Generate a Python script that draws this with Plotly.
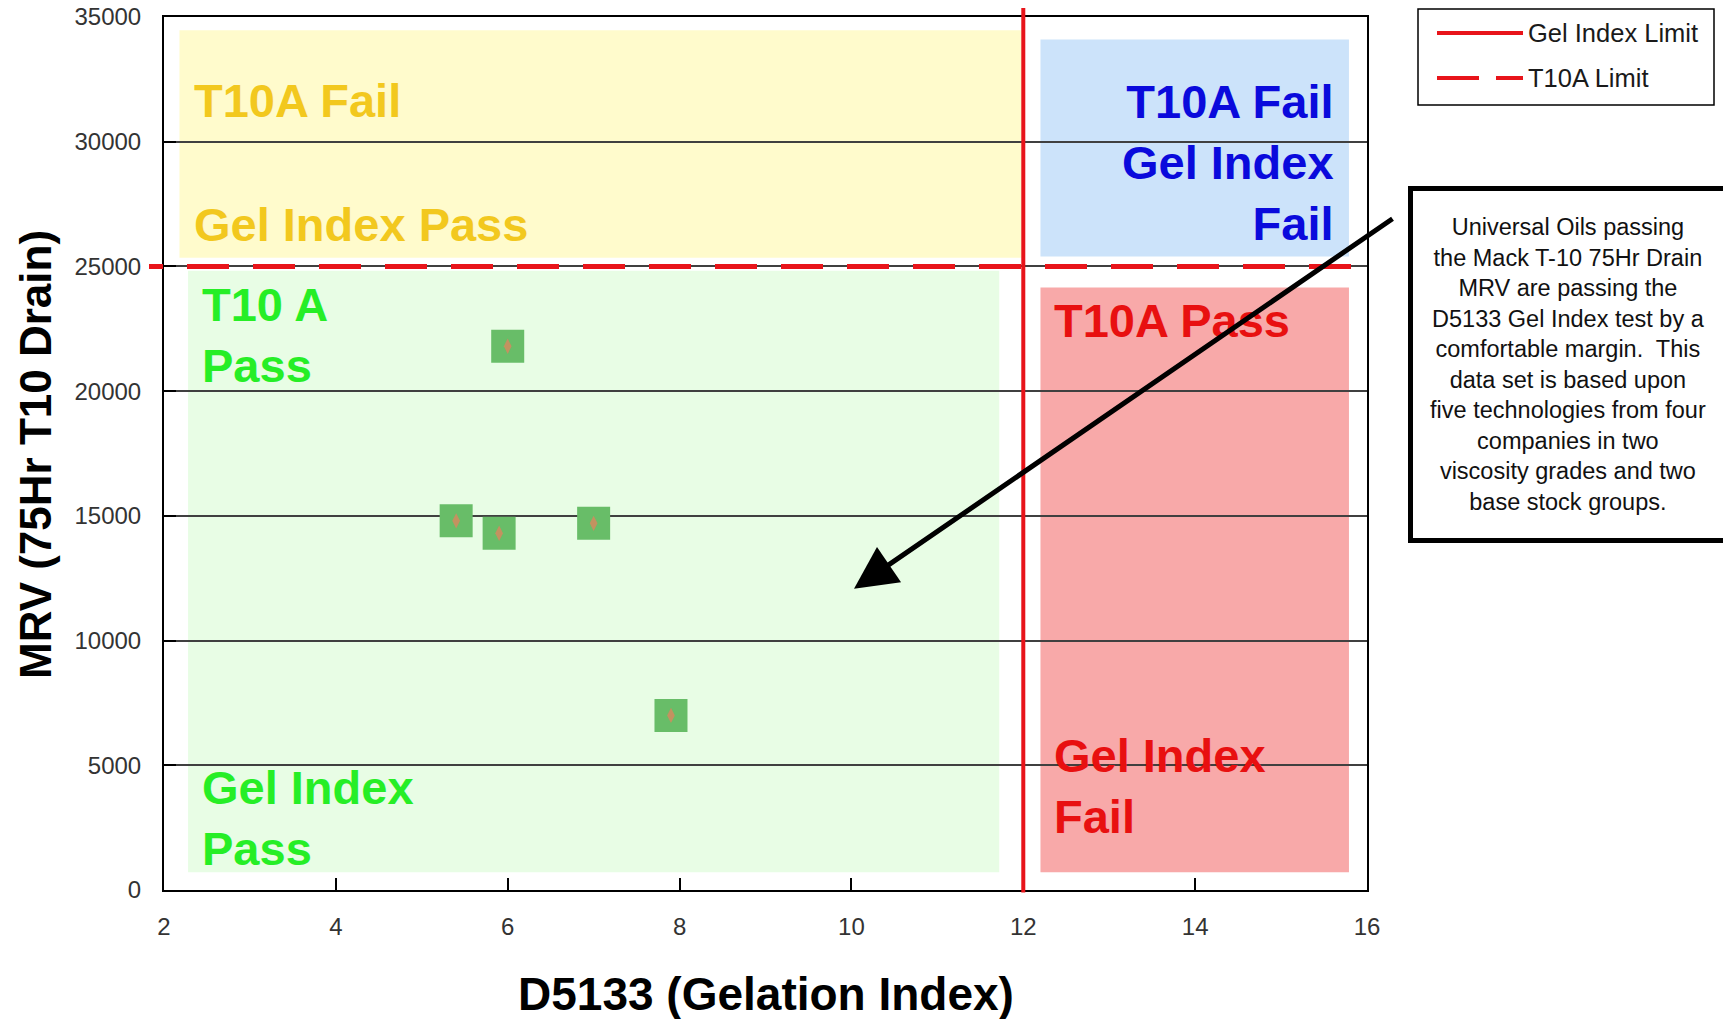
import plotly.graph_objects as go

# ---------------- data ----------------
gel_index = [6.0, 5.4, 5.9, 7.0, 7.9]          # D5133 Gelation Index
mrv = [21800, 14800, 14300, 14700, 7000]       # MRV (75Hr T10 Drain)

gel_index_limit = 12
t10a_limit = 25000

x_ticks = [2, 4, 6, 8, 10, 12, 14, 16]
y_ticks = [0, 5000, 10000, 15000, 20000, 25000, 30000, 35000]

x_title = "D5133 (Gelation Index)"
y_title = "MRV (75Hr T10 Drain)"
legend_labels = ["Gel Index Limit", "T10A Limit"]
note_text = ("Universal Oils passing<br>the Mack T-10 75Hr Drain<br>MRV are passing the<br>"
             "D5133 Gel Index test by a<br>comfortable margin.  This<br>data set is based upon<br>"
             "five technologies from four<br>companies in two<br>viscosity grades and two<br>"
             "base stock groups.")

FONT = "Liberation Sans, Arial, sans-serif"
RED = "#E8141A"

# ---------------- layout geometry (pixels) ----------------
OFF = 8                      # default page body margin
W, H = 1723, 1011
PW, PH = 1203, 873
ML, MT = 156, 9
MR, MB = W - ML - PW, H - MT - PH


def px_x(px):
    return (px - OFF - ML) / PW


def px_y(py):
    return (MT + PH - (py - OFF)) / PH


fig = go.Figure()

# scatter points
fig.add_trace(go.Scatter(
    x=gel_index, y=mrv, mode="markers", showlegend=False,
    marker=dict(symbol="square", size=33, color="#68BD68", line=dict(width=0)),
    hoverinfo="x+y"))
fig.add_trace(go.Scatter(
    x=gel_index, y=mrv, mode="markers", showlegend=False, hoverinfo="skip",
    marker=dict(symbol="diamond-tall", size=11, color="#D9875E", opacity=0.8, line=dict(width=0))))

shapes = []
# coloured regions (below grid)
regions = [
    (2.18, 11.98, 25350, 34470, "#FFFBCC"),
    (12.20, 15.79, 25400, 34100, "#CCE3FA"),
    (2.28, 11.72, 710, 24830, "#E8FDE5"),
    (12.20, 15.79, 710, 24160, "#F8A9A9"),
]
for x0, x1, y0, y1, c in regions:
    shapes.append(dict(type="rect", xref="x", yref="y", x0=x0, x1=x1, y0=y0, y1=y1,
                       fillcolor=c, line=dict(width=0), layer="below"))

# gel index limit (vertical)
shapes.append(dict(type="line", xref="x", yref="paper", x0=gel_index_limit, x1=gel_index_limit,
                   y0=-0.003, y1=1.015, line=dict(color=RED, width=4), layer="above"))
# T10A limit (horizontal dashed)
dash = "14px,24px" + ",42px,24px" * 20
shapes.append(dict(type="line", xref="paper", yref="y", x0=px_x(149), x1=px_x(1352),
                   y0=t10a_limit, y1=t10a_limit, line=dict(color=RED, width=5, dash=dash),
                   layer="above"))

# custom legend
shapes.append(dict(type="rect", xref="paper", yref="paper", x0=px_x(1418), x1=px_x(1714),
                   y0=px_y(105), y1=px_y(9), line=dict(color="black", width=1.5),
                   fillcolor="white"))
shapes.append(dict(type="line", xref="paper", yref="paper", x0=px_x(1437), x1=px_x(1523),
                   y0=px_y(33), y1=px_y(33), line=dict(color=RED, width=4)))
shapes.append(dict(type="line", xref="paper", yref="paper", x0=px_x(1437), x1=px_x(1479),
                   y0=px_y(78), y1=px_y(78), line=dict(color=RED, width=4)))
shapes.append(dict(type="line", xref="paper", yref="paper", x0=px_x(1496), x1=px_x(1523),
                   y0=px_y(78), y1=px_y(78), line=dict(color=RED, width=4)))

annotations = []
for lab, py in zip(legend_labels, [33, 78]):
    annotations.append(dict(text=lab, xref="paper", yref="paper", x=px_x(1526), y=px_y(py),
                            xanchor="left", yanchor="middle", showarrow=False,
                            font=dict(family=FONT, size=25.5, color="#1A1A1A")))

# region labels
labels = [
    ("<b>T10A Fail</b>", 2.32, 31640, "left", "#F2C81E"),
    ("<b>Gel Index Pass</b>", 2.32, 26680, "left", "#F2C81E"),
    ("<b>T10A Fail<br>Gel Index<br>Fail</b>", 15.64, 29160, "right", "#0A0ADC"),
    ("<b>T10 A<br>Pass</b>", 2.42, 22260, "left", "#26EE26"),
    ("<b>Gel Index<br>Pass</b>", 2.42, 2876, "left", "#26EE26"),
    ("<b>T10A Pass</b>", 12.33, 22830, "left", "#E81010"),
    ("<b>Gel Index<br>Fail</b>", 12.33, 4160, "left", "#E81010"),
]
for t, x, y, anc, c in labels:
    annotations.append(dict(text=t, x=x, y=y, xref="x", yref="y", xanchor=anc, yanchor="middle",
                            align=anc, showarrow=False,
                            font=dict(family=FONT, size=47, color=c)))

# axis titles
annotations.append(dict(text="<b>" + x_title + "</b>", xref="paper", yref="paper",
                        x=0.5, y=px_y(994), xanchor="center", yanchor="middle", showarrow=False,
                        font=dict(family=FONT, size=46, color="black")))
annotations.append(dict(text="<b>" + y_title + "</b>", xref="paper", yref="paper",
                        x=px_x(35), y=px_y(455), xanchor="center", yanchor="middle",
                        textangle=-90, showarrow=False,
                        font=dict(family=FONT, size=44, color="black")))

# note box
annotations.append(dict(text=note_text, xref="paper", yref="paper",
                        x=px_x(1567.7), y=px_y(364), xanchor="center", yanchor="middle",
                        showarrow=False, align="center", width=304, height=341,
                        bgcolor="white", bordercolor="black", borderwidth=5, borderpad=3,
                        font=dict(family=FONT, size=23.5, color="#111111")))
# arrow
annotations.append(dict(text="", x=10.03, y=12080, xref="x", yref="y", ax=540, ay=-371,
                        showarrow=True, arrowhead=2, arrowwidth=5, arrowsize=1.7,
                        arrowcolor="black"))

fig.update_layout(
    width=W, height=H,
    margin=dict(l=ML, r=MR, t=MT, b=MB, pad=0, autoexpand=False),
    paper_bgcolor="white", plot_bgcolor="white",
    showlegend=False,
    shapes=shapes, annotations=annotations,
    font=dict(family=FONT),
)
fig.update_xaxes(
    range=[2, 16], tickvals=x_ticks, ticktext=[str(v) for v in x_ticks],
    showgrid=False, zeroline=False, automargin=False, ticklabeloverflow="allow",
    showline=True, linecolor="black", linewidth=2, mirror=True,
    ticks="inside", ticklen=12, tickcolor="black", tickwidth=1.5,
    tickfont=dict(family=FONT, size=24, color="#333333"), ticklabelstandoff=14,
)
fig.update_yaxes(
    range=[0, 35000], tickvals=y_ticks, ticktext=[str(v) for v in y_ticks],
    showgrid=True, gridcolor="#404040", gridwidth=1.5, zeroline=False, automargin=False,
    ticklabeloverflow="allow",
    showline=True, linecolor="black", linewidth=2, mirror=True,
    ticks="inside", ticklen=12, tickcolor="black", tickwidth=1.5,
    tickfont=dict(family=FONT, size=24, color="#333333"), ticklabelstandoff=16,
)

fig.write_html("out.html")
